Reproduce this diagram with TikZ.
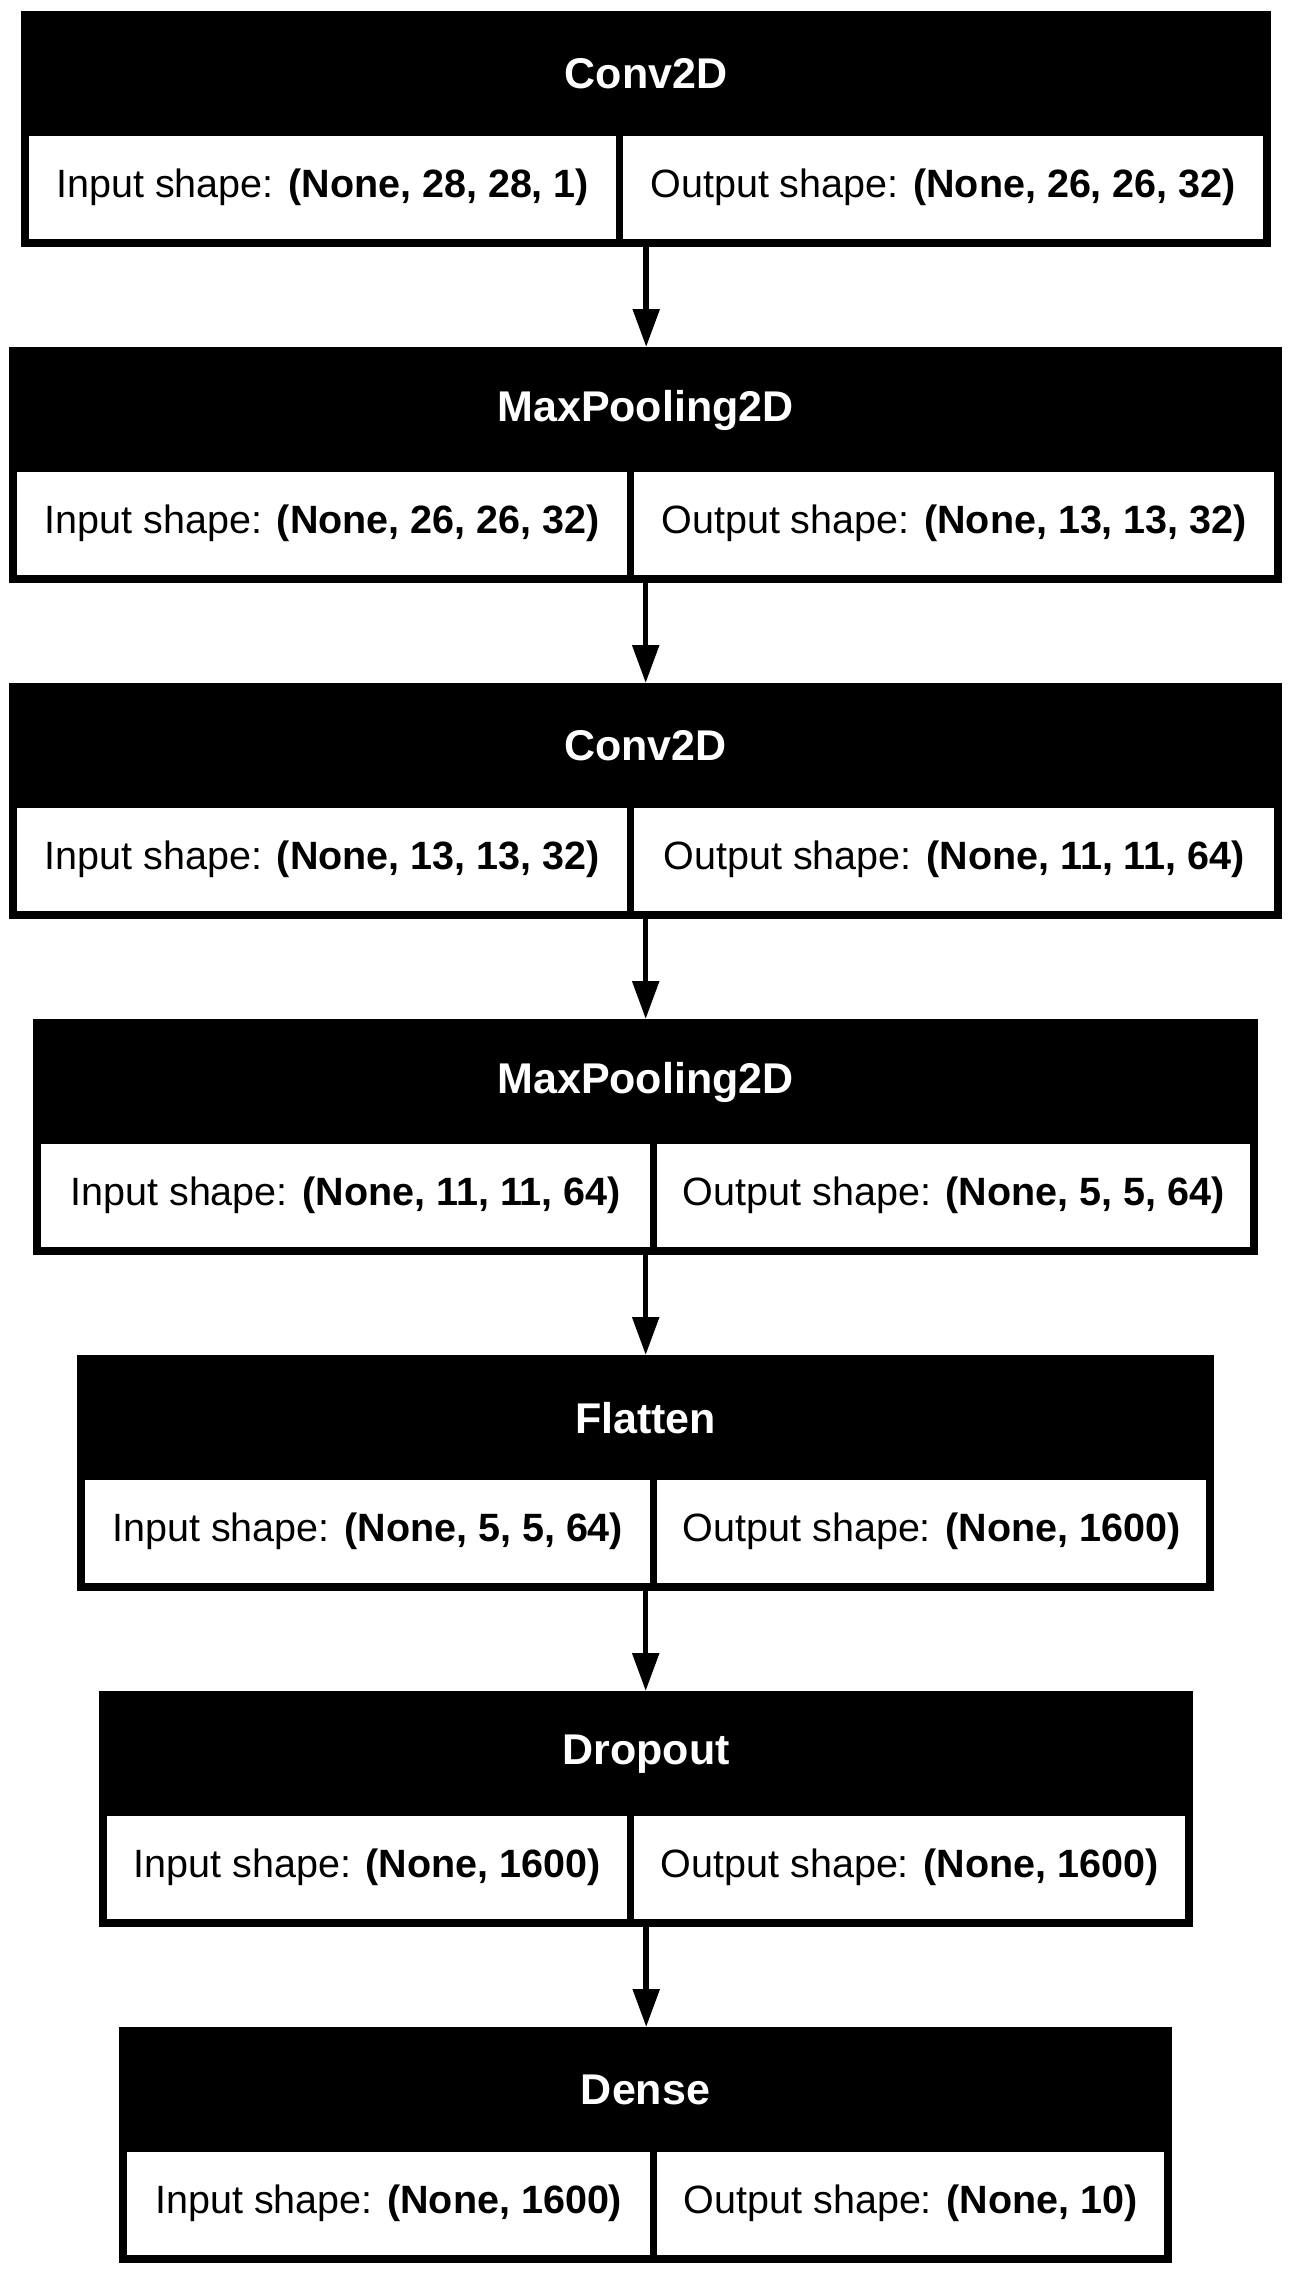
\documentclass[tikz,border=0pt]{standalone}
\usepackage{fontspec}
\setmainfont{Liberation Sans}
\usetikzlibrary{arrows.meta}
\tikzset{
  layerframe/.style={rectangle, fill=black, draw=none, inner sep=0pt, minimum height=236pt},
  headtext/.style={text=white, inner sep=0pt, font=\fontsize{43}{50}\selectfont\bfseries},
  cellbox/.style={rectangle, fill=white, draw=none, inner sep=0pt, minimum height=103pt, font=\fontsize{39.5}{46}\selectfont},
  conn/.style={line width=5.5pt, -{Triangle[length=38pt,width=26pt]}}
}
% #1 name, #2 left, #3 top, #4 right, #5 divider left edge, #6 title, #7 input, #8 output
\newcommand{\mylayer}[8]{%
  \node[layerframe, minimum width={#4-#2}, anchor=north west] (#1) at (#2,#3) {};
  \node[headtext] (#1-t) at ({(#2+#4)/2},{#3+63}) {#6};
  \node[cellbox, minimum width={#5-#2-8}, anchor=north west] (#1-in) at ({#2+8},{#3+125}) {Input shape: \textbf{#7}};
  \node[cellbox, minimum width={#4-#5-15}, anchor=north west] (#1-out) at ({#5+7},{#3+125}) {Output shape: \textbf{#8}};
}
\begin{document}
\begin{tikzpicture}[x=1pt,y=-1pt]
\fill[white] (0,0) rectangle (1292,2275);
\useasboundingbox (0,0) rectangle (1292,2275);
\mylayer{b1}{21}{11}{1271}{616}{Conv2D}{(None, 28, 28, 1)}{(None, 26, 26, 32)}
\mylayer{b2}{9}{347}{1282}{627}{MaxPooling2D}{(None, 26, 26, 32)}{(None, 13, 13, 32)}
\mylayer{b3}{9}{683}{1282}{627}{Conv2D}{(None, 13, 13, 32)}{(None, 11, 11, 64)}
\mylayer{b4}{33}{1019}{1258}{650}{MaxPooling2D}{(None, 11, 11, 64)}{(None, 5, 5, 64)}
\mylayer{b5}{77}{1355}{1214}{650}{Flatten}{(None, 5, 5, 64)}{(None, 1600)}
\mylayer{b6}{99}{1691}{1193}{627}{Dropout}{(None, 1600)}{(None, 1600)}
\mylayer{b7}{119}{2027}{1172}{650}{Dense}{(None, 1600)}{(None, 10)}
\draw[conn] (b1.south) -- (b1.south |- b2.north);
\draw[conn] (b2.south) -- (b2.south |- b3.north);
\draw[conn] (b3.south) -- (b3.south |- b4.north);
\draw[conn] (b4.south) -- (b4.south |- b5.north);
\draw[conn] (b5.south) -- (b5.south |- b6.north);
\draw[conn] (b6.south) -- (b6.south |- b7.north);
\end{tikzpicture}
\end{document}
